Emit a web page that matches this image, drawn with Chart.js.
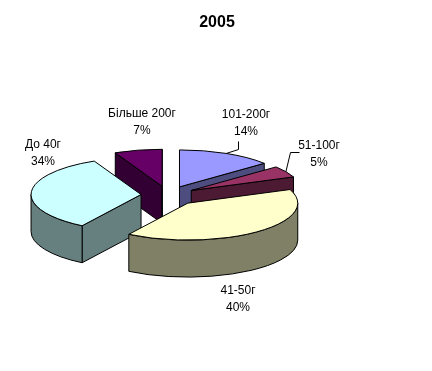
<!DOCTYPE html>
<html>
<head>
<meta charset="utf-8">
<style>
	html, body { margin: 0; padding: 0; background: #fff; }
	canvas { display: block; }
</style>
<script src="https://cdn.jsdelivr.net/npm/chart.js@4"></script>
</head>
<body>
<canvas id="myChart" width="432" height="371"></canvas>
<script>
const categories = ['101-200г', '51-100г', '41-50г', 'До 40г', 'Більше 200г'];
const shares = [14, 5, 40, 34, 7];
const colors = ['#9999FF', '#993366', '#FFFFCC', '#CCFFFF', '#660066'];
const sideColors = ['#4D4D80', '#4D1A33', '#808066', '#668080', '#330033'];
const explode = [27, 27, 31, 27, 27];

const squash = 0.336;
const depth = 37;
// back to front
const drawOrder = [4, 0, 1, 3, 2];
// label centres, the two small slices also get a leader line
const labelSpots = [
	{ x: 246, y: 115, elbow: [[238, 141], [238, 149]] },
	{ x: 319, y: 146, elbow: [[299, 152], [290, 152]] },
	{ x: 238, y: 291 },
	{ x: 43, y: 145 },
	{ x: 142, y: 114 }
];

function slicePart(arc) {
	const mid = (arc.startAngle + arc.endAngle) / 2;
	const off = arc.options.offset;
	return {
		cx: arc.x + Math.cos(mid) * off,
		cy: arc.y + Math.sin(mid) * off * squash,
		rx: arc.outerRadius,
		ry: arc.outerRadius * squash,
		mid: mid
	};
}

function paintPath(ctx, fill) {
	ctx.fillStyle = fill;
	ctx.fill();
	ctx.stroke();
}

function radialWall(ctx, p, angle, fill) {
	const x = p.cx + Math.cos(angle) * p.rx;
	const y = p.cy + Math.sin(angle) * p.ry;
	ctx.beginPath();
	ctx.moveTo(p.cx, p.cy);
	ctx.lineTo(x, y);
	ctx.lineTo(x, y + depth);
	ctx.lineTo(p.cx, p.cy + depth);
	ctx.closePath();
	paintPath(ctx, fill);
}

const pie3d = {
	id: 'pie3d',
	afterLayout(chart) {
		// title stays centred on the whole picture, not on the padded pie
		chart.titleBlock.left = 0;
		chart.titleBlock.right = chart.width + 2;
	},
	beforeDatasetsDraw(chart) {
		const ctx = chart.ctx;
		const arcs = chart.getDatasetMeta(0).data;
		ctx.save();
		ctx.strokeStyle = '#000';
		ctx.lineWidth = 1;
		ctx.lineJoin = 'round';
		drawOrder.forEach((i) => {
			const arc = arcs[i];
			const p = slicePart(arc);
			const side = sideColors[i];
			if (Math.cos(arc.startAngle) < 0) radialWall(ctx, p, arc.startAngle, side);
			if (Math.cos(arc.endAngle) > 0) radialWall(ctx, p, arc.endAngle, side);
			const a0 = Math.max(arc.startAngle, 0);
			const a1 = Math.min(arc.endAngle, Math.PI);
			if (a1 > a0) {
				ctx.beginPath();
				ctx.ellipse(p.cx, p.cy, p.rx, p.ry, 0, a0, a1);
				ctx.ellipse(p.cx, p.cy + depth, p.rx, p.ry, 0, a1, a0, true);
				ctx.closePath();
				paintPath(ctx, side);
			}
			ctx.beginPath();
			ctx.moveTo(p.cx, p.cy);
			ctx.ellipse(p.cx, p.cy, p.rx, p.ry, 0, arc.startAngle, arc.endAngle);
			ctx.closePath();
			paintPath(ctx, arc.options.backgroundColor);
		});
		ctx.restore();
		return false;
	},
	afterDraw(chart) {
		const ctx = chart.ctx;
		const arcs = chart.getDatasetMeta(0).data;
		ctx.save();
		ctx.fillStyle = '#000';
		ctx.strokeStyle = '#000';
		ctx.lineWidth = 1;
		ctx.font = '12px "Liberation Sans"';
		ctx.textAlign = 'center';
		ctx.textBaseline = 'middle';
		labelSpots.forEach((spot, i) => {
			ctx.fillText(categories[i], spot.x, spot.y);
			ctx.fillText(shares[i] + '%', spot.x, spot.y + 17);
			if (spot.elbow) {
				const p = slicePart(arcs[i]);
				ctx.beginPath();
				ctx.moveTo(spot.elbow[0][0] + 0.5, spot.elbow[0][1] + 0.5);
				ctx.lineTo(spot.elbow[1][0] + 0.5, spot.elbow[1][1] + 0.5);
				ctx.lineTo(p.cx + Math.cos(p.mid) * p.rx, p.cy + Math.sin(p.mid) * p.ry);
				ctx.stroke();
			}
		});
		ctx.restore();
	}
};

new Chart(document.getElementById('myChart').getContext('2d'), {
	type: 'pie',
	data: {
		labels: categories,
		datasets: [{
			data: shares,
			backgroundColor: colors,
			borderWidth: 0,
			offset: explode,
			radius: 110
		}]
	},
	options: {
		responsive: false,
		animation: false,
		layout: { padding: { top: 0, right: 96, bottom: 13, left: 0 } },
		plugins: {
			legend: { display: false },
			tooltip: { enabled: false },
			title: {
				display: true,
				text: '2005',
				color: '#000',
				font: { family: '"Liberation Sans"', size: 16, weight: 'bold' },
				padding: { top: 13, bottom: 0 }
			}
		}
	},
	plugins: [pie3d]
});
</script>
</body>
</html>
